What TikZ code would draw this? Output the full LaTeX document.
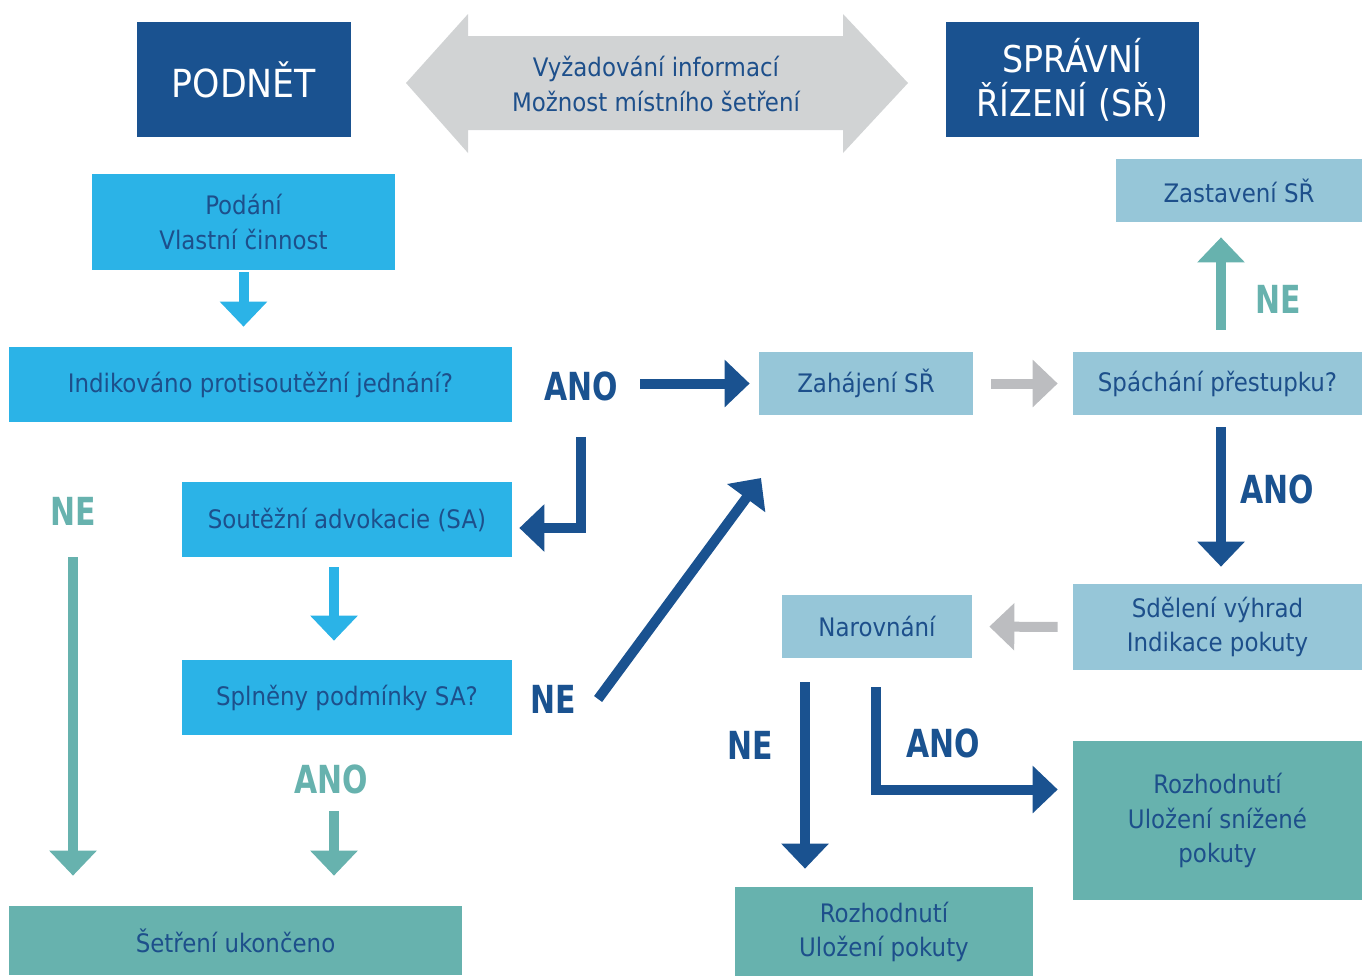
\documentclass[tikz,border=0pt]{standalone}
\usepackage{fontspec}
\setmainfont{DejaVu Sans Condensed}[BoldFont={DejaVu Sans Condensed Bold}]
\newfontfamily\tagfont{DejaVu Sans Condensed Bold}[FakeStretch=0.86]
\usetikzlibrary{arrows.meta, calc}
\definecolor{podnetblue}{HTML}{1A5290}
\definecolor{textblue}{HTML}{1D4F8B}
\definecolor{stepcyan}{HTML}{2BB3E7}
\definecolor{srlight}{HTML}{96C6D8}
\definecolor{endteal}{HTML}{67B2AE}
\definecolor{arrowgrey}{HTML}{BCBDC0}
\definecolor{infogrey}{HTML}{D1D3D4}

\tikzset{
  box/.style={inner sep=0pt, align=center, text=textblue, font=\fontsize{14.5}{19.5}\selectfont},
  headbox/.style={box, fill=podnetblue, text=white, font=\fontsize{21}{25}\selectfont},
  cyanbox/.style={box, fill=stepcyan},
  srbox/.style={box, fill=srlight},
  tealbox/.style={box, fill=endteal},
  tagblue/.style={inner sep=0pt, text=podnetblue, font=\fontsize{22}{22}\tagfont},
  tagteal/.style={tagblue, text=endteal},
  flow/.style={line width=0.2cm, -{Triangle[width=0.92cm, length=0.5cm]}},
}

\begin{document}
\begin{tikzpicture}[x=0.02cm, y=-0.02cm]
  \useasboundingbox (0,0) rectangle (1362,975);

  % Header boxes
  \node[headbox, minimum width=4.28cm, minimum height=2.3cm, font=\fontsize{22}{25}\selectfont] (podnet) at (244,79.5) {PODNĚT};
  \node[headbox, minimum width=5.06cm, minimum height=2.3cm] (spravni) at (1072.5,79.5) {SPRÁVNÍ\\ŘÍZENÍ (SŘ)};

  % Info double arrow
  \fill[infogrey] (406,83) -- (468,14) -- (468,36) -- (843,36) -- (843,14) -- (908,83)
    -- (843,153) -- (843,130) -- (468,130) -- (468,153) -- cycle;
  \node[box] (info) at (656,84) {Vyžadování informací\\Možnost místního šetření};

  % Left column
  \node[cyanbox, minimum width=6.06cm, minimum height=1.92cm] (podani) at (243.5,222) {Podání\\Vlastní činnost};
  \node[cyanbox, minimum width=10.06cm, minimum height=1.5cm] (indik) at (260.5,384.5) {Indikováno protisoutěžní jednání?};
  \node[cyanbox, minimum width=6.6cm, minimum height=1.5cm] (advokacie) at (347,519.5) {Soutěžní advokacie (SA)};
  \node[cyanbox, minimum width=6.6cm, minimum height=1.5cm] (splneny) at (347,697.5) {Splněny podmínky SA?};
  \node[tealbox, minimum width=9.06cm, minimum height=1.38cm] (ukonceno) at (235.5,940.5) {Šetření ukončeno};

  % Right column
  \node[srbox, minimum width=4.28cm, minimum height=1.26cm] (zahajeni) at (866,383.5) {Zahájení SŘ};
  \node[srbox, minimum width=5.78cm, minimum height=1.26cm] (spachani) at (1217.5,383.5) {Spáchání přestupku?};
  \node[srbox, minimum width=4.92cm, minimum height=1.26cm] (zastaveni) at (1239,190.5) {Zastavení SŘ};
  \node[srbox, minimum width=5.78cm, minimum height=1.72cm] (sdeleni) at (1217.5,627) {Sdělení výhrad\\Indikace pokuty};
  \node[srbox, minimum width=3.8cm, minimum height=1.26cm] (narovnani) at (877,626.5) {Narovnání};
  \node[tealbox, minimum width=5.78cm, minimum height=3.18cm] (snizene) at (1217.5,820.5) {Rozhodnutí\\Uložení snížené\\pokuty};
  \node[tealbox, minimum width=5.96cm, minimum height=1.8cm] (pokuta) at (884,932) {Rozhodnutí\\Uložení pokuty};

  % Answers
  \node[tagblue] (anoIndik) at (581,386) {ANO};
  \node[tagteal] (neIndik) at (73,511) {NE};
  \node[tagblue] (neSA) at (553,699) {NE};
  \node[tagteal] (anoSA) at (331,779) {ANO};
  \node[tagteal] (neSpach) at (1278,299) {NE};
  \node[tagblue] (anoSpach) at (1277,489) {ANO};
  \node[tagblue] (neNar) at (750,745) {NE};
  \node[tagblue] (anoNar) at (943,743) {ANO};
  \coordinate (diagtip) at (761,478);

  % Connectors
  \draw[flow, stepcyan, shorten <=0.04cm, shorten >=0.4cm] (podani.south) -- (podani.south |- indik.north);
  \draw[flow, stepcyan, shorten <=0.2cm, shorten >=0.38cm] ([xshift=-0.26cm]advokacie.south) -- ([xshift=-0.26cm]splneny.north);
  \draw[flow, endteal, shorten <=0.64cm, shorten >=0.6cm] (neIndik.south) -- (neIndik.south |- ukonceno.north);
  \draw[flow, endteal, shorten <=0.34cm, shorten >=0.6cm] ([xshift=0.06cm]anoSA.south) -- ([xshift=0.06cm]anoSA.south |- ukonceno.north);
  \draw[flow, podnetblue, shorten <=0.44cm, shorten >=0.18cm] (anoIndik.east |- zahajeni.west) -- (zahajeni.west);
  \draw[flow, podnetblue, shorten <=0.72cm, shorten >=0.14cm] (anoIndik.south) |- ($(advokacie.east)+(0,8.5)$);
  \draw[flow, podnetblue] ([xshift=0.44cm]neSA.east) -- (diagtip);
  \draw[flow, arrowgrey, shorten <=0.36cm, shorten >=0.3cm] (zahajeni.east) -- (spachani.west);
  \draw[flow, endteal, shorten <=0.44cm, shorten >=0.3cm] ([xshift=0.07cm]spachani.north) -- ([xshift=0.07cm]spachani.north |- zastaveni.south);
  \draw[flow, podnetblue, shorten <=0.24cm, shorten >=0.34cm] ([xshift=0.07cm]spachani.south) -- ([xshift=0.07cm]sdeleni.north);
  \draw[flow, arrowgrey, shorten <=0.3cm, shorten >=0.34cm] (sdeleni.west) -- (narovnani.east);
  \draw[flow, podnetblue, shorten <=0.48cm, shorten >=0.36cm] ([xshift=-1.44cm]narovnani.south) -- ([xshift=-1.44cm]narovnani.south |- pokuta.north);
  \draw[flow, podnetblue, shorten <=0.58cm, shorten >=0.3cm] ([xshift=-0.02cm]narovnani.south) |- ($(snizene.west)+(0,-31)$);
\end{tikzpicture}
\end{document}
